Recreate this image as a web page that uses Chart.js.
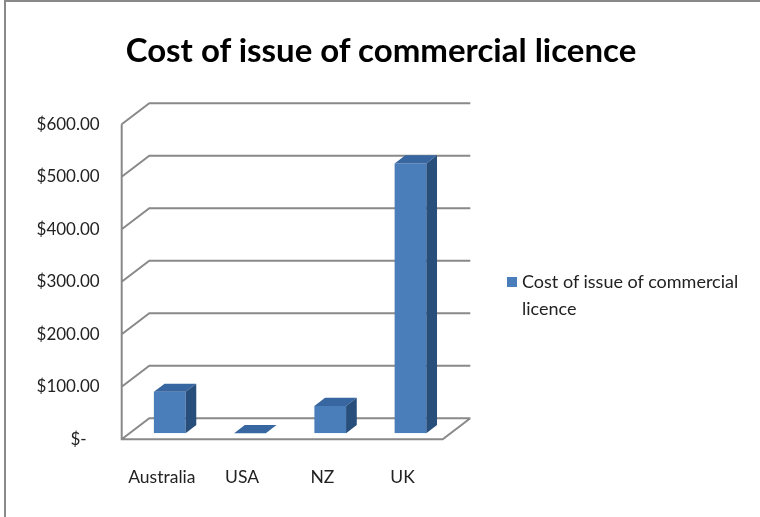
<!DOCTYPE html>
<html>
<head>
<meta charset="utf-8">
<script src="https://cdn.jsdelivr.net/npm/chart.js@4/dist/chart.umd.min.js"></script>
<style>
  body { margin: 0; background: #fff; font-family: Lato, sans-serif; }
  #wrap { position: relative; width: 760px; height: 517px; overflow: hidden; }
  #frame { position: absolute; left: 4px; top: 0; width: 800px; height: 600px;
           border-top: 2px solid #898989; border-left: 2px solid #898989; box-sizing: border-box; }
  #title { position: absolute; left: 0; width: 762px; top: 30px; text-align: center;
           font-weight: bold; font-size: 33px; line-height: 38px; color: #000; }
  #legend { position: absolute; left: 507px; top: 267.5px; width: 252px; font-size: 18px; color: #222; }
  #legend .sw { position: absolute; left: 0; top: 9.5px; width: 10px; height: 10px; }
  #legend .txt { margin-left: 15px; line-height: 27px; }
</style>
</head>
<body>
<div id="wrap">
  <canvas id="chart" width="760" height="517"></canvas>
  <div id="frame"></div>
  <div id="title"></div>
  <div id="legend"><span class="sw"></span><div class="txt"></div></div>
</div>
<script>
'use strict';

const countries = ['Australia', 'USA', 'NZ', 'UK'];
const licenceCost = [79, 0, 52, 514];
const yTickLabels = ['$-', '$100.00', '$200.00', '$300.00', '$400.00', '$500.00', '$600.00'];
const seriesName = 'Cost of issue of commercial licence';

const FRONT = '#4a7ebb';
const SIDE = '#284f7c';
const TOP = '#3866a0';

// fake 3d: floor depth, how far the bars sit behind the front edge, bar depth
const DEPTH_X = 27.6, DEPTH_Y = 21;
const BAR_OFF_X = 7.9, BAR_OFF_Y = 6;
const BAR_DX = 10.7, BAR_DY = 8.2;

document.getElementById('title').textContent = seriesName;
document.querySelector('#legend .txt').textContent = seriesName;
document.querySelector('#legend .sw').style.background = FRONT;

const frame3d = {
  id: 'frame3d',
  beforeDatasetsDraw(chart) {
    const ctx = chart.ctx;
    const a = chart.chartArea;
    const y = chart.scales.y;
    ctx.save();
    ctx.strokeStyle = '#898989';
    ctx.lineWidth = 2;
    ctx.beginPath();
    for (let t of y.ticks) {
      const py = y.getPixelForValue(t.value);
      ctx.moveTo(a.left, py);
      ctx.lineTo(a.left + DEPTH_X, py - DEPTH_Y);
      ctx.lineTo(a.right + DEPTH_X, py - DEPTH_Y);
    }
    ctx.moveTo(a.left, a.top);
    ctx.lineTo(a.left, a.bottom);
    ctx.lineTo(a.right, a.bottom);
    ctx.lineTo(a.right + DEPTH_X, a.bottom - DEPTH_Y);
    ctx.stroke();
    ctx.restore();
  },
  beforeDatasetDraw(chart) {
    chart.ctx.save();
    chart.ctx.translate(BAR_OFF_X, -BAR_OFF_Y);
  },
  afterDatasetDraw(chart, args) {
    const ctx = chart.ctx;
    for (let bar of args.meta.data) {
      const p = bar.getProps(['x', 'y', 'base', 'width'], true);
      const l = p.x - p.width / 2;
      const r = p.x + p.width / 2;
      ctx.fillStyle = TOP;
      ctx.beginPath();
      ctx.moveTo(l, p.y);
      ctx.lineTo(l + BAR_DX, p.y - BAR_DY);
      ctx.lineTo(r + BAR_DX, p.y - BAR_DY);
      ctx.lineTo(r, p.y);
      ctx.closePath();
      ctx.fill();
      if (p.base - p.y > 0.5) {
        ctx.fillStyle = SIDE;
        ctx.beginPath();
        ctx.moveTo(r, p.y);
        ctx.lineTo(r + BAR_DX, p.y - BAR_DY);
        ctx.lineTo(r + BAR_DX, p.base - BAR_DY);
        ctx.lineTo(r, p.base);
        ctx.closePath();
        ctx.fill();
      }
    }
    ctx.restore();
  }
};

new Chart(document.getElementById('chart'), {
  type: 'bar',
  data: {
    labels: countries,
    datasets: [{
      label: seriesName,
      data: licenceCost,
      backgroundColor: FRONT,
      borderWidth: 0,
      barPercentage: 0.395,
      categoryPercentage: 1
    }]
  },
  options: {
    responsive: false,
    animation: false,
    devicePixelRatio: 1,
    layout: { padding: { left: 0, top: 124.3, right: 317.3, bottom: 0 } },
    plugins: {
      legend: { display: false },
      title: { display: false },
      tooltip: { enabled: false }
    },
    scales: {
      x: {
        grid: { display: false, drawTicks: false },
        border: { display: false },
        ticks: { color: '#222', font: { family: 'Lato', size: 17.5 }, padding: 28, maxRotation: 0 },
        afterFit(scale) { scale.height = 77.7; }
      },
      y: {
        min: 0,
        max: 600,
        grid: { display: false, drawTicks: false },
        border: { display: false },
        ticks: {
          stepSize: 100,
          color: '#222',
          font: { family: 'Lato', size: 17 },
          padding: 22,
          callback: (v, i) => i === 0 ? yTickLabels[i] + '   ' : yTickLabels[i]
        },
        afterFit(scale) { scale.width = 121.7; }
      }
    }
  },
  plugins: [frame3d]
});
</script>
</body>
</html>
